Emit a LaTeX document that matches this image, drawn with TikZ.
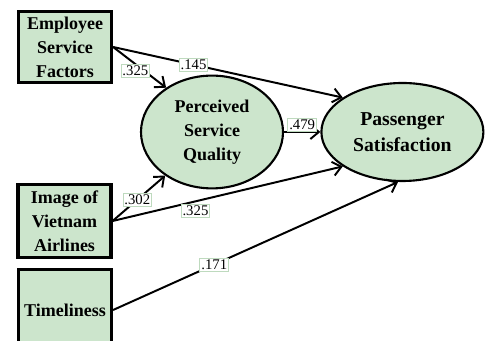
\documentclass[tikz,border=0pt]{standalone}
\usepackage{fontspec}
\setmainfont{Liberation Serif}
\usetikzlibrary{arrows.meta,positioning,shapes.geometric}
\definecolor{semgreen}{RGB}{204,229,204}
\definecolor{lblgreen}{RGB}{190,218,190}

\begin{document}
\begin{tikzpicture}[
  factor/.style={rectangle, draw=black, line width=2.4pt, fill=semgreen, minimum width=2.32cm, align=center, inner sep=1pt, font=\fontsize{12.8}{17}\selectfont\bfseries},
  latent/.style={ellipse, draw=black, line width=1.5pt, fill=semgreen, align=center, inner sep=0pt},
  coef/.style={rectangle, draw=lblgreen, line width=0.6pt, fill=white, inner sep=1pt, font=\fontsize{10.5}{11}\selectfont},
  effect/.style={-{Straight Barb[length=6pt,width=10pt]}, line width=1.4pt}
]
  \useasboundingbox (0,0) rectangle (12.125,8.525);

  \node (esf) [factor, minimum height=1.77cm] at (1.625,7.35) {Employee\\Service\\Factors};
  \node (img) [factor, minimum height=1.82cm] at (1.6125,3.0) {Image of\\Vietnam\\Airlines};
  \node (tml) [factor, minimum height=2.02cm] at (1.625,0.775) {Timeliness};

  \node (psq) [latent, minimum width=3.55cm, minimum height=2.82cm, font=\fontsize{12.8}{17}\selectfont\bfseries] at (5.3,5.225) {Perceived\\Service\\Quality};
  \node (ps) [latent, minimum width=4.05cm, minimum height=2.45cm, font=\fontsize{14}{18.5}\selectfont\bfseries] at (10.06,5.225) {Passenger\\Satisfaction};

  \path [effect]
  (esf.east) edge node[coef, pos=0.35] {.145} (ps.150)
  (esf.east) edge node[coef, pos=0.42, anchor=north] {.325} (psq.136)
  (img.east) edge node[coef, pos=0.47] {.302} (psq.223)
  (img.east) edge node[coef, pos=0.36, anchor=north, yshift=-2pt] {.325} (ps.210)
  (psq) edge node[coef, anchor=south] {.479} (ps)
  (tml.east) edge node[coef, pos=0.355] {.171} (ps.265);
\end{tikzpicture}
\end{document}
